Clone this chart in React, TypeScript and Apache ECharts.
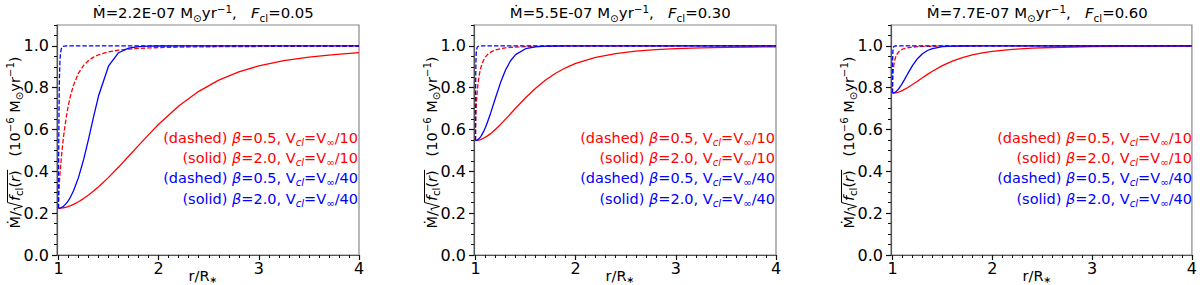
import { useEffect, useRef } from 'react';
import * as echarts from 'echarts';

// ---------------- data ----------------
const rValues = [1, 1.0005, 1.001, 1.002, 1.004, 1.007, 1.01, 1.015, 1.02, 1.03, 1.04, 1.05, 1.06, 1.08, 1.1, 1.12, 1.15, 1.2, 1.25, 1.3, 1.35, 1.4, 1.5, 1.6, 1.7, 1.8, 1.9, 2.0, 2.2, 2.4, 2.6, 2.8, 3.0, 3.25, 3.5, 3.75, 4.0];

// Panel 1 : Mdot = 2.2E-07, Fcl = 0.05
const p1RedDashed = [0.2236, 0.2485, 0.2595, 0.2757, 0.3001, 0.3287, 0.3530, 0.3883, 0.4195, 0.4741, 0.5218, 0.5641, 0.6019, 0.6668, 0.7195, 0.7625, 0.8129, 0.8702, 0.9065, 0.9302, 0.9463, 0.9576, 0.9717, 0.9798, 0.9848, 0.9881, 0.9904, 0.9920, 0.9942, 0.9955, 0.9963, 0.9969, 0.9973, 0.9977, 0.9980, 0.9982, 0.9984];
const p1RedSolid = [0.2236, 0.2236, 0.2236, 0.2236, 0.2236, 0.2237, 0.2237, 0.2238, 0.2240, 0.2245, 0.2252, 0.2260, 0.2270, 0.2295, 0.2325, 0.2361, 0.2423, 0.2549, 0.2698, 0.2868, 0.3057, 0.3262, 0.3713, 0.4205, 0.4721, 0.5245, 0.5759, 0.6251, 0.7125, 0.7827, 0.8361, 0.8755, 0.9042, 0.9295, 0.9468, 0.9588, 0.9674];
const p1BlueDashed = [0.2236, 0.3377, 0.3963, 0.4890, 0.6298, 0.7723, 0.8591, 0.9338, 0.9667, 0.9899, 0.9963, 0.9985, 0.9993, 0.9998, 1.0, 1.0, 1.0, 1.0, 1.0, 1.0, 1.0, 1.0, 1.0, 1.0, 1.0, 1.0, 1.0, 1.0, 1.0, 1.0, 1.0, 1.0, 1.0, 1.0, 1.0, 1.0, 1.0];
const p1BlueSolid = [0.2236, 0.2236, 0.2236, 0.2236, 0.2237, 0.2238, 0.2240, 0.2245, 0.2252, 0.2272, 0.2300, 0.2334, 0.2376, 0.2480, 0.2613, 0.2773, 0.3069, 0.3713, 0.4547, 0.5541, 0.6606, 0.7613, 0.9042, 0.9674, 0.9894, 0.9965, 0.9988, 0.9996, 0.9999, 1.0, 1.0, 1.0, 1.0, 1.0, 1.0, 1.0, 1.0];

// Panel 2 : Mdot = 5.5E-07, Fcl = 0.30
const p2RedDashed = [0.5477, 0.5907, 0.6085, 0.6334, 0.6680, 0.7047, 0.7327, 0.7688, 0.7968, 0.8382, 0.8677, 0.8898, 0.9068, 0.9311, 0.9473, 0.9585, 0.9699, 0.9809, 0.9869, 0.9906, 0.9929, 0.9945, 0.9964, 0.9975, 0.9981, 0.9985, 0.9988, 0.9990, 0.9993, 0.9994, 0.9995, 0.9996, 0.9997, 0.9997, 0.9998, 0.9998, 0.9998];
const p2RedSolid = [0.5477, 0.5477, 0.5477, 0.5477, 0.5478, 0.5478, 0.5479, 0.5481, 0.5485, 0.5494, 0.5506, 0.5521, 0.5539, 0.5583, 0.5636, 0.5698, 0.5804, 0.6011, 0.6245, 0.6496, 0.6755, 0.7016, 0.7520, 0.7976, 0.8368, 0.8692, 0.8953, 0.9161, 0.9453, 0.9633, 0.9746, 0.9818, 0.9866, 0.9905, 0.9930, 0.9947, 0.9958];
const p2BlueDashed = [0.5477, 0.7153, 0.7764, 0.8479, 0.9179, 0.9609, 0.9789, 0.9911, 0.9957, 0.9987, 0.9995, 0.9998, 0.9999, 1.0, 1.0, 1.0, 1.0, 1.0, 1.0, 1.0, 1.0, 1.0, 1.0, 1.0, 1.0, 1.0, 1.0, 1.0, 1.0, 1.0, 1.0, 1.0, 1.0, 1.0, 1.0, 1.0, 1.0];
const p2BlueSolid = [0.5477, 0.5477, 0.5477, 0.5478, 0.5479, 0.5481, 0.5485, 0.5494, 0.5507, 0.5542, 0.5591, 0.5652, 0.5724, 0.5899, 0.6112, 0.6358, 0.6771, 0.7521, 0.8245, 0.8848, 0.9290, 0.9582, 0.9866, 0.9958, 0.9987, 0.9996, 0.9999, 1.0, 1.0, 1.0, 1.0, 1.0, 1.0, 1.0, 1.0, 1.0, 1.0];

// Panel 3 : Mdot = 7.7E-07, Fcl = 0.60
const p3RedDashed = [0.7746, 0.8076, 0.8203, 0.8373, 0.8592, 0.8806, 0.8957, 0.9138, 0.9267, 0.9445, 0.9562, 0.9644, 0.9705, 0.9788, 0.9841, 0.9876, 0.9911, 0.9944, 0.9962, 0.9973, 0.9980, 0.9984, 0.9990, 0.9993, 0.9995, 0.9996, 0.9997, 0.9997, 0.9998, 0.9998, 0.9999, 0.9999, 0.9999, 0.9999, 0.9999, 0.9999, 0.9999];
const p3RedSolid = [0.7746, 0.7746, 0.7746, 0.7746, 0.7746, 0.7747, 0.7748, 0.7749, 0.7752, 0.7759, 0.7769, 0.7781, 0.7795, 0.7830, 0.7872, 0.7920, 0.8000, 0.8152, 0.8313, 0.8478, 0.8637, 0.8789, 0.9056, 0.9271, 0.9439, 0.9567, 0.9664, 0.9737, 0.9834, 0.9891, 0.9925, 0.9947, 0.9961, 0.9973, 0.9980, 0.9985, 0.9988];
const p3BlueDashed = [0.7746, 0.8864, 0.9174, 0.9484, 0.9743, 0.9883, 0.9938, 0.9974, 0.9988, 0.9996, 0.9999, 1.0, 1.0, 1.0, 1.0, 1.0, 1.0, 1.0, 1.0, 1.0, 1.0, 1.0, 1.0, 1.0, 1.0, 1.0, 1.0, 1.0, 1.0, 1.0, 1.0, 1.0, 1.0, 1.0, 1.0, 1.0, 1.0];
const p3BlueSolid = [0.7746, 0.7746, 0.7746, 0.7746, 0.7747, 0.7749, 0.7752, 0.7760, 0.7770, 0.7798, 0.7837, 0.7884, 0.7939, 0.8071, 0.8223, 0.8388, 0.8647, 0.9056, 0.9388, 0.9626, 0.9781, 0.9875, 0.9961, 0.9988, 0.9996, 0.9999, 1.0, 1.0, 1.0, 1.0, 1.0, 1.0, 1.0, 1.0, 1.0, 1.0, 1.0];

const titleMdot = ['2.2E-07', '5.5E-07', '7.7E-07'];
const titleFcl = ['0.05', '0.30', '0.60'];

const xMajorTicks = [1, 2, 3, 4];
const xMinorTicks = [1.1, 1.2, 1.3, 1.4, 1.5, 1.6, 1.7, 1.8, 1.9, 2.1, 2.2, 2.3, 2.4, 2.5, 2.6, 2.7, 2.8, 2.9, 3.1, 3.2, 3.3, 3.4, 3.5, 3.6, 3.7, 3.8, 3.9];
const yMajorTicks = [0, 0.2, 0.4, 0.6, 0.8, 1.0];
const yMinorTicks = [0.05, 0.1, 0.15, 0.25, 0.3, 0.35, 0.45, 0.5, 0.55, 0.65, 0.7, 0.75, 0.85, 0.9, 0.95, 1.05, 1.1];

const legendLabels = [
  { kind: '(dashed) ', beta: '=0.5, V', ratio: '/10', color: '#ff0000' },
  { kind: '(solid) ', beta: '=2.0, V', ratio: '/10', color: '#ff0000' },
  { kind: '(dashed) ', beta: '=0.5, V', ratio: '/40', color: '#0000ff' },
  { kind: '(solid) ', beta: '=2.0, V', ratio: '/40', color: '#0000ff' },
];

const panelCurves = [
  [p1RedDashed, p1RedSolid, p1BlueDashed, p1BlueSolid],
  [p2RedDashed, p2RedSolid, p2BlueDashed, p2BlueSolid],
  [p3RedDashed, p3RedSolid, p3BlueDashed, p3BlueSolid],
];
const curveStyles = [
  { color: '#ff0000', dashed: true },
  { color: '#ff0000', dashed: false },
  { color: '#0000ff', dashed: true },
  { color: '#0000ff', dashed: false },
];

// ---------------- layout ----------------
const PANEL_LEFT = [57, 474, 891];
const PANEL_W = 302;
const PANEL_TOP = 25;
const PANEL_H = 230;
const X_MIN = 0.985;
const X_MAX = 4;
const FONT = 'DejaVu Sans';
const BASE = 14.5;
const TITLE = 14.9;
const SMALL = 10.2;
const TICK_FONT = 16;

type Tok = { t: string; s?: number; it?: boolean; dy?: number; w?: number };

let measureCtx: CanvasRenderingContext2D | null = null;
function measure(t: string, size: number, it: boolean): number {
  if (!measureCtx) measureCtx = document.createElement('canvas').getContext('2d');
  const ctx = measureCtx!;
  ctx.font = `${it ? 'italic ' : ''}${size}px "${FONT}"`;
  return ctx.measureText(t).width;
}

function layoutTokens(tokens: Tok[], x: number, baseline: number, align: 'left' | 'center' | 'right', color: string, base = BASE) {
  const widths = tokens.map((tk) => (tk.w !== undefined ? tk.w : measure(tk.t, tk.s ?? base, !!tk.it)));
  const W = widths.reduce((a, b) => a + b, 0);
  let cx = align === 'left' ? x : align === 'center' ? x - W / 2 : x - W;
  const els: any[] = [];
  const xs: number[] = [];
  tokens.forEach((tk, i) => {
    xs.push(cx);
    const size = tk.s ?? base;
    const trimmed = tk.t.trim();
    if (trimmed) {
      const lead = tk.t.length - tk.t.trimStart().length;
      const off = lead ? measure(tk.t.slice(0, lead), size, !!tk.it) : 0;
      els.push({
        type: 'text',
        x: cx + off,
        y: baseline + (tk.dy ?? 0) - 0.346 * size,
        silent: true,
        style: {
          text: trimmed,
          fontSize: size,
          fontFamily: FONT,
          fontStyle: tk.it ? 'italic' : 'normal',
          fill: color,
          align: 'left',
          verticalAlign: 'middle',
        },
      });
    }
    cx += widths[i];
  });
  xs.push(cx);
  return { els, xs, W };
}

function buildGraphics(): any[] {
  const out: any[] = [];
  PANEL_LEFT.forEach((L, i) => {
    const R = L + PANEL_W;
    const C = L + PANEL_W / 2;
    // title
    const title: Tok[] = [
      { t: `Ṁ=${titleMdot[i]} M` },
      { t: '⊙', s: 10.4, dy: 3 },
      { t: 'yr' },
      { t: '−1', s: 10.4, dy: -6 },
      { t: ',   ' },
      { t: 'F', it: true },
      { t: 'cl', s: 10.4, dy: 3 },
      { t: `=${titleFcl[i]}` },
    ];
    out.push(...layoutTokens(title, C - 4.7, 18.3, 'center', '#000', TITLE).els);
    // x-axis name
    const xname: Tok[] = [{ t: 'r/R' }, { t: '∗', s: 9.5, dy: 2 }];
    out.push(...layoutTokens(xname, C - 5, 281, 'center', '#000').els);
    // legend texts
    legendLabels.forEach((lg, k) => {
      const toks: Tok[] = [
        { t: lg.kind },
        { t: 'β', it: true },
        { t: lg.beta },
        { t: 'cl', s: SMALL, it: true, dy: 3 },
        { t: '=V' },
        { t: '∞', s: SMALL, dy: 3 },
        { t: lg.ratio },
      ];
      out.push(...layoutTokens(toks, R - 1, 143.1 + 20.2 * k, 'right', lg.color).els);
    });
    // y-axis label (rotated)
    const ytoks: Tok[] = [
      { t: 'Ṁ/' },
      { t: '', w: 10 },
      { t: 'f', it: true },
      { t: 'cl', s: SMALL, dy: 3 },
      { t: '(' },
      { t: 'r', it: true },
      { t: ')' },
      { t: '   (10' },
      { t: '−6', s: SMALL, dy: -6 },
      { t: ' M' },
      { t: '⊙', s: SMALL, dy: 3 },
      { t: 'yr' },
      { t: '−1', s: SMALL, dy: -6 },
      { t: ')' },
    ];
    const b = 5;
    const yl = layoutTokens(ytoks, 0, b, 'center', '#000');
    const rx = yl.xs[1];
    const rEnd = yl.xs[7];
    out.push({
      type: 'group',
      x: L - 42,
      y: 142.5,
      rotation: Math.PI / 2,
      silent: true,
      children: [
        ...yl.els,
        {
          type: 'polyline',
          silent: true,
          shape: {
            points: [
              [rx + 0.5, b - 5],
              [rx + 2.3, b - 6.2],
              [rx + 4.6, b + 2.5],
              [rx + 8.6, b - 12.5],
              [rEnd + 0.5, b - 12.5],
            ],
          },
          style: { stroke: '#000', lineWidth: 1, fill: null },
        },
      ],
    });
  });
  return out;
}

function buildOption(): any {
  const grid: any[] = [];
  const xAxis: any[] = [];
  const yAxis: any[] = [];
  const series: any[] = [];
  PANEL_LEFT.forEach((L, i) => {
    grid.push({
      left: L,
      top: PANEL_TOP,
      width: PANEL_W,
      height: PANEL_H,
      show: true,
      borderColor: '#888',
      borderWidth: 1.2,
      backgroundColor: 'transparent',
      containLabel: false,
    });
    xAxis.push({
      type: 'value',
      gridIndex: i,
      position: 'bottom',
      min: X_MIN,
      max: X_MAX,
      axisLine: { show: true, onZero: false, lineStyle: { color: '#555', width: 1.2 } },
      axisTick: { show: true, inside: false, customValues: xMajorTicks, length: 5, lineStyle: { color: '#111', width: 1.2 } },
      axisLabel: {
        show: true,
        customValues: xMajorTicks,
        formatter: (v: number) => String(Math.round(v)),
        fontSize: TICK_FONT,
        fontFamily: FONT,
        color: '#000',
        margin: 5,
      },
      splitLine: { show: false },
    });
    xAxis.push({
      type: 'value',
      gridIndex: i,
      position: 'bottom',
      min: X_MIN,
      max: X_MAX,
      axisLine: { show: false, onZero: false },
      axisTick: { show: true, inside: false, customValues: xMinorTicks, length: 3, lineStyle: { color: '#111', width: 1 } },
      axisLabel: { show: false },
      splitLine: { show: false },
    });
    yAxis.push({
      type: 'value',
      gridIndex: i,
      position: 'left',
      min: 0,
      max: 1.1,
      axisLine: { show: true, onZero: false, lineStyle: { color: '#555', width: 1.2 } },
      axisTick: { show: true, inside: false, customValues: yMajorTicks, length: 5, lineStyle: { color: '#111', width: 1.2 } },
      axisLabel: {
        show: true,
        customValues: yMajorTicks,
        formatter: (v: number) => v.toFixed(1),
        fontSize: TICK_FONT,
        fontFamily: FONT,
        color: '#000',
        margin: 8,
      },
      splitLine: { show: false },
    });
    yAxis.push({
      type: 'value',
      gridIndex: i,
      position: 'left',
      min: 0,
      max: 1.1,
      axisLine: { show: false, onZero: false },
      axisTick: { show: true, inside: false, customValues: yMinorTicks, length: 3, lineStyle: { color: '#111', width: 1 } },
      axisLabel: { show: false },
      splitLine: { show: false },
    });
    panelCurves[i].forEach((ys, k) => {
      const st = curveStyles[k];
      series.push({
        type: 'line',
        xAxisIndex: 2 * i,
        yAxisIndex: 2 * i,
        data: rValues.map((r, j) => [r, ys[j]]),
        showSymbol: false,
        symbol: 'none',
        silent: true,
        z: 2 + k,
        lineStyle: { color: st.color, width: 1.3, type: st.dashed ? [4.5, 2] : 'solid' },
      });
    });
  });
  return {
    animation: false,
    backgroundColor: '#ffffff',
    grid,
    xAxis,
    yAxis,
    series,
    graphic: buildGraphics(),
  };
}

export default function App() {
  const ref = useRef<HTMLDivElement>(null);
  useEffect(() => {
    if (!ref.current) return;
    const chart = echarts.init(ref.current, null, { renderer: 'svg' });
    chart.setOption(buildOption());
    return () => chart.dispose();
  }, []);
  return <div ref={ref} style={{ position: 'absolute', left: 0, top: 0, width: 1200, height: 285 }} />;
}
